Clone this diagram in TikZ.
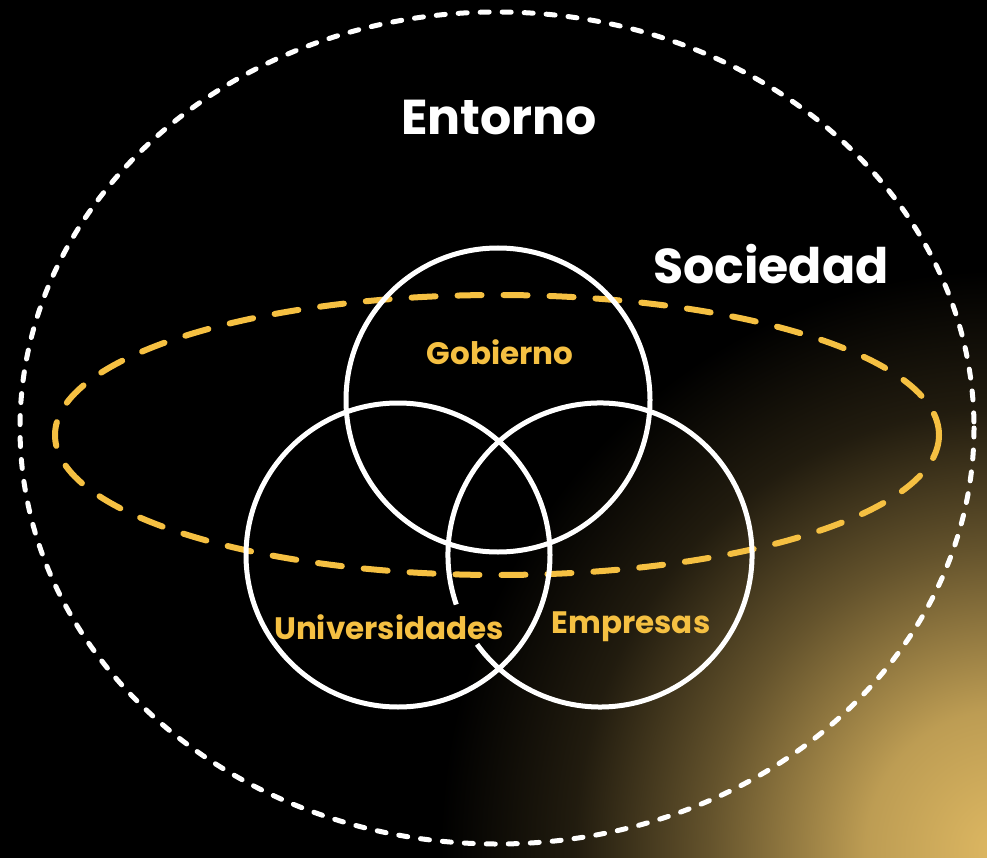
\documentclass[tikz,border=0pt]{standalone}
\usepackage{fontspec}
\setmainfont{Poppins}
\usepackage{tikz}

\definecolor{gold}{RGB}{245,192,66}
\definecolor{glow}{RGB}{222,184,98}

\pgfdeclareradialshading{cornerglow}{\pgfpoint{0bp}{0bp}}{%
    color(0bp)=(glow); color(6bp)=(glow!85!black); color(13bp)=(glow!45!black);
    color(19bp)=(glow!15!black); color(25bp)=(black); color(50bp)=(black)}

\tikzset{
    ring/.style={circle, draw=white, line width=5pt, minimum size=304pt, inner sep=0pt},
    ringline/.style={draw=white, line width=5pt},
    outerline/.style={draw=white, line width=5pt, line cap=round, dash pattern=on 9pt off 13pt},
    socline/.style={draw=gold, line width=6pt, line cap=round, dash pattern=on 24pt off 22pt},
    bigtext/.style={text=white, font=\fontsize{49}{54}\selectfont\bfseries},
    smalltext/.style={text=gold, font=\fontsize{31}{34}\selectfont\bfseries},
}

\begin{document}
\begin{tikzpicture}[x=1pt, y=-1pt]
        % background with the glow in the corner
        \fill[black] (0,0) rectangle (987,858);
        \begin{scope}
            \clip (0,0) rectangle (987,858);
            \shade[shading=cornerglow] (1000,850) ellipse [x radius=560, y radius=580];
        \end{scope}
        \useasboundingbox (0,0) rectangle (987,858);
        % entorno
        \draw[outerline] (497,428) ellipse [x radius=477, y radius=416];
        % sociedad
        \draw[socline] (497,435) ellipse [x radius=442, y radius=140];
        % three circles
        \node[ring] (gob) at (498,400) {};
        \node[ring] (uni) at (398,555) {};
        \coordinate (emp) at (600,555);
        % empresas circle, broken behind the text
        \draw[ringline] (emp) ++(161:152) arc[start angle=161, end angle=504, radius=152];
        % labels
        \node[bigtext] (entorno) at (499,118) {Entorno};
        \node[bigtext] (sociedad) at (771,264) {Sociedad};
        \node[smalltext] (gobl) at (500,352) {Gobierno};
        \node[smalltext] (unil) at (389,627) {Universidades};
        \node[smalltext] (empl) at (631,627) {Empresas};
\end{tikzpicture}
\end{document}
